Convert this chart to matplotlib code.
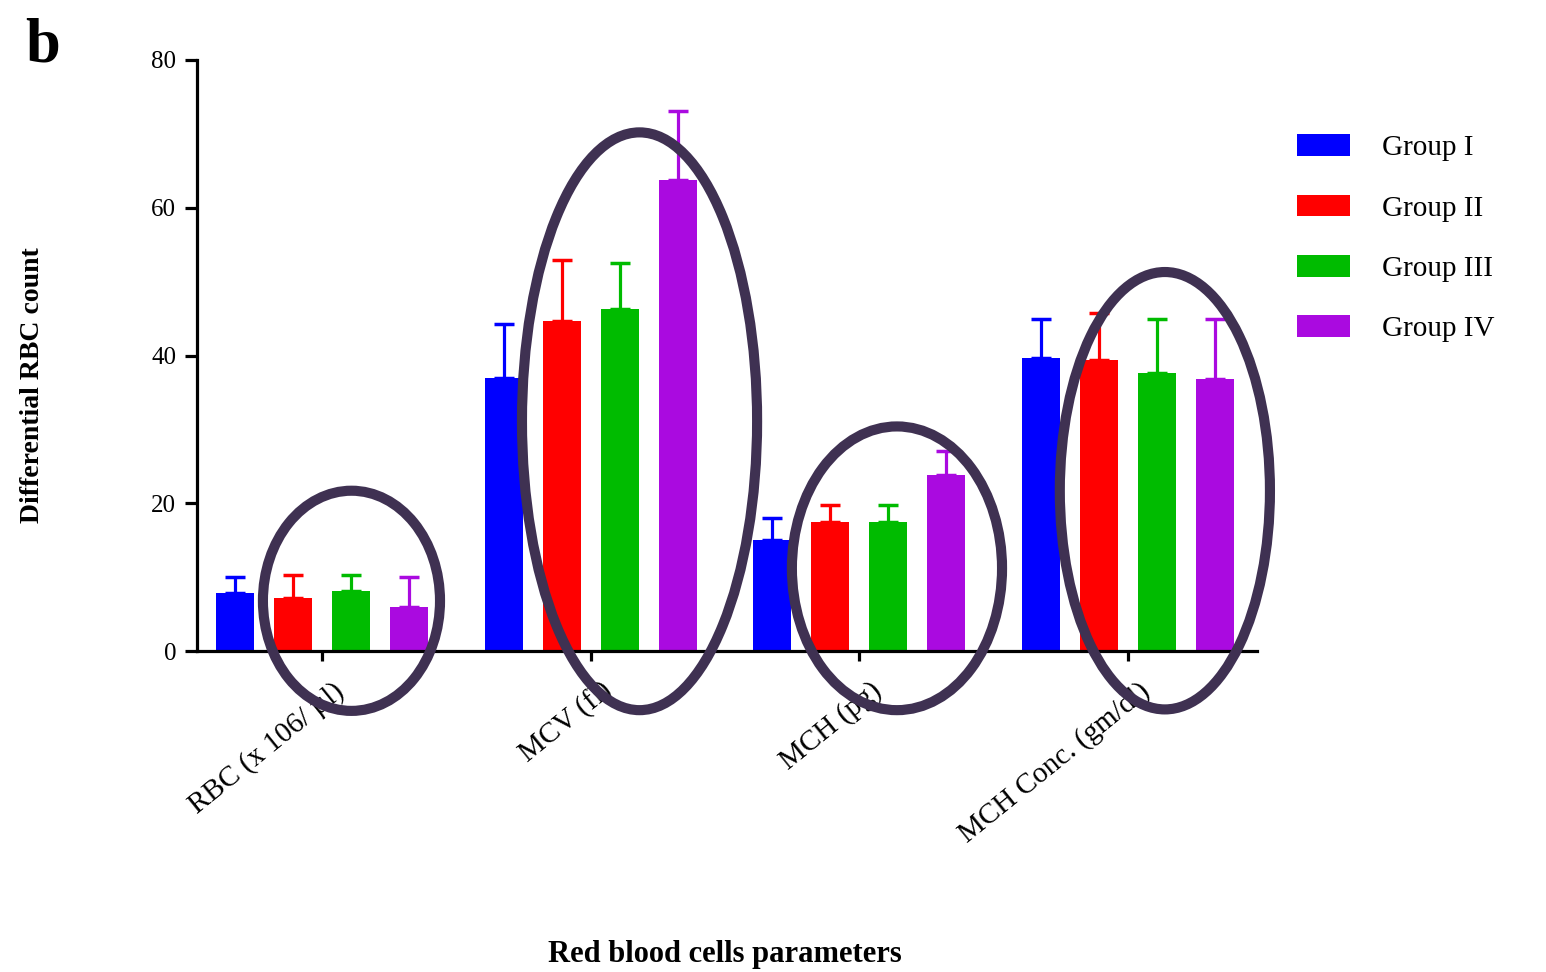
import matplotlib
matplotlib.use("Agg")
import matplotlib.pyplot as plt
import numpy as np
from matplotlib.patches import Ellipse
from matplotlib.transforms import ScaledTranslation

# values
parameters = ["RBC (x 106/ µl)", "MCV (fl)", "MCH (pg)", "MCH Conc. (gm/dl)"]
groups = ["Group I", "Group II", "Group III", "Group IV"]
group_colors = ["#0000ff", "#ff0000", "#00bb00", "#aa0ae0"]

group_i = [7.9, 36.9, 15.0, 39.6]
group_ii = [7.2, 44.7, 17.5, 39.4]
group_iii = [8.1, 46.3, 17.5, 37.7]
group_iv = [5.9, 63.8, 23.8, 36.8]

err_i = [2.1, 7.3, 3.0, 5.4]
err_ii = [3.1, 8.2, 2.3, 6.4]
err_iii = [2.2, 6.2, 2.2, 7.3]
err_iv = [4.1, 9.3, 3.3, 8.2]

# hand-drawn highlight ellipses: (x centre, y centre, width, height) in data units
highlights = [
    (0.110, 6.8, 0.659, 29.8),
    (1.182, 31.1, 0.875, 78.2),
    (2.140, 11.2, 0.782, 38.4),
    (3.137, 21.7, 0.782, 59.2),
]

plt.rcParams["font.family"] = ["Liberation Serif", "DejaVu Serif"]

fig = plt.figure(figsize=(15.46, 9.72), dpi=100)
ax = fig.add_axes([0.1274, 0.3302, 0.6857, 0.6081])

x = np.arange(len(parameters))
pitch = 0.216
width = 0.141
all_means = [group_i, group_ii, group_iii, group_iv]
all_errs = [err_i, err_ii, err_iii, err_iv]

for k, (name, color, means, errs) in enumerate(zip(groups, group_colors, all_means, all_errs)):
    pos = x + (k - 1.5) * pitch
    ax.bar(pos, means, width=width, color=color, label=name, zorder=2)
    ax.errorbar(pos, means, yerr=[np.zeros(len(errs)), errs], fmt="none",
                ecolor=color, elinewidth=2.3, capsize=7.5, capthick=2.5, zorder=2)

for cx, cy, w, h in highlights:
    ax.add_patch(Ellipse((cx, cy), w, h, fill=False, edgecolor="#3f3152",
                         linewidth=7.3, clip_on=False, zorder=5))

ax.set_xlim(-0.465, 3.48)
ax.set_ylim(0, 80)
ax.set_yticks([0, 20, 40, 60, 80])
ax.set_xticks(x)
ax.set_xticklabels([])

# rotated category labels, right end just below and right of each tick
label_tr = ax.get_xaxis_transform() + ScaledTranslation(0.19, -0.37, fig.dpi_scale_trans)
for xi, name in zip(x, parameters):
    ax.text(xi, 0, name, transform=label_tr, rotation=39, rotation_mode="anchor",
            ha="right", va="center", fontsize=21)

for side in ["top", "right"]:
    ax.spines[side].set_visible(False)
for side in ["left", "bottom"]:
    ax.spines[side].set_linewidth(2.3)
ax.tick_params(axis="y", length=9, width=2.3, labelsize=18, pad=6)
ax.tick_params(axis="x", length=7, width=2.3, pad=4)

ax.set_ylabel("Differential RBC count", fontsize=20, fontweight="bold")
ax.yaxis.set_label_coords(-0.143, 0.45)
ax.set_xlabel("Red blood cells parameters", fontsize=22, fontweight="bold")
ax.xaxis.set_label_coords(0.498, -0.489)

fig.text(0.016, 0.937, "b", fontsize=45, fontweight="bold", ha="left", va="baseline")

ax.legend(loc="upper left", bbox_to_anchor=(0.839, 0.862), bbox_transform=fig.transFigure,
          frameon=False, fontsize=21, handlelength=1.8, handleheight=0.78,
          handletextpad=1.1, labelspacing=1.14, borderpad=0, borderaxespad=0)

fig.savefig("out.png", dpi=100)
